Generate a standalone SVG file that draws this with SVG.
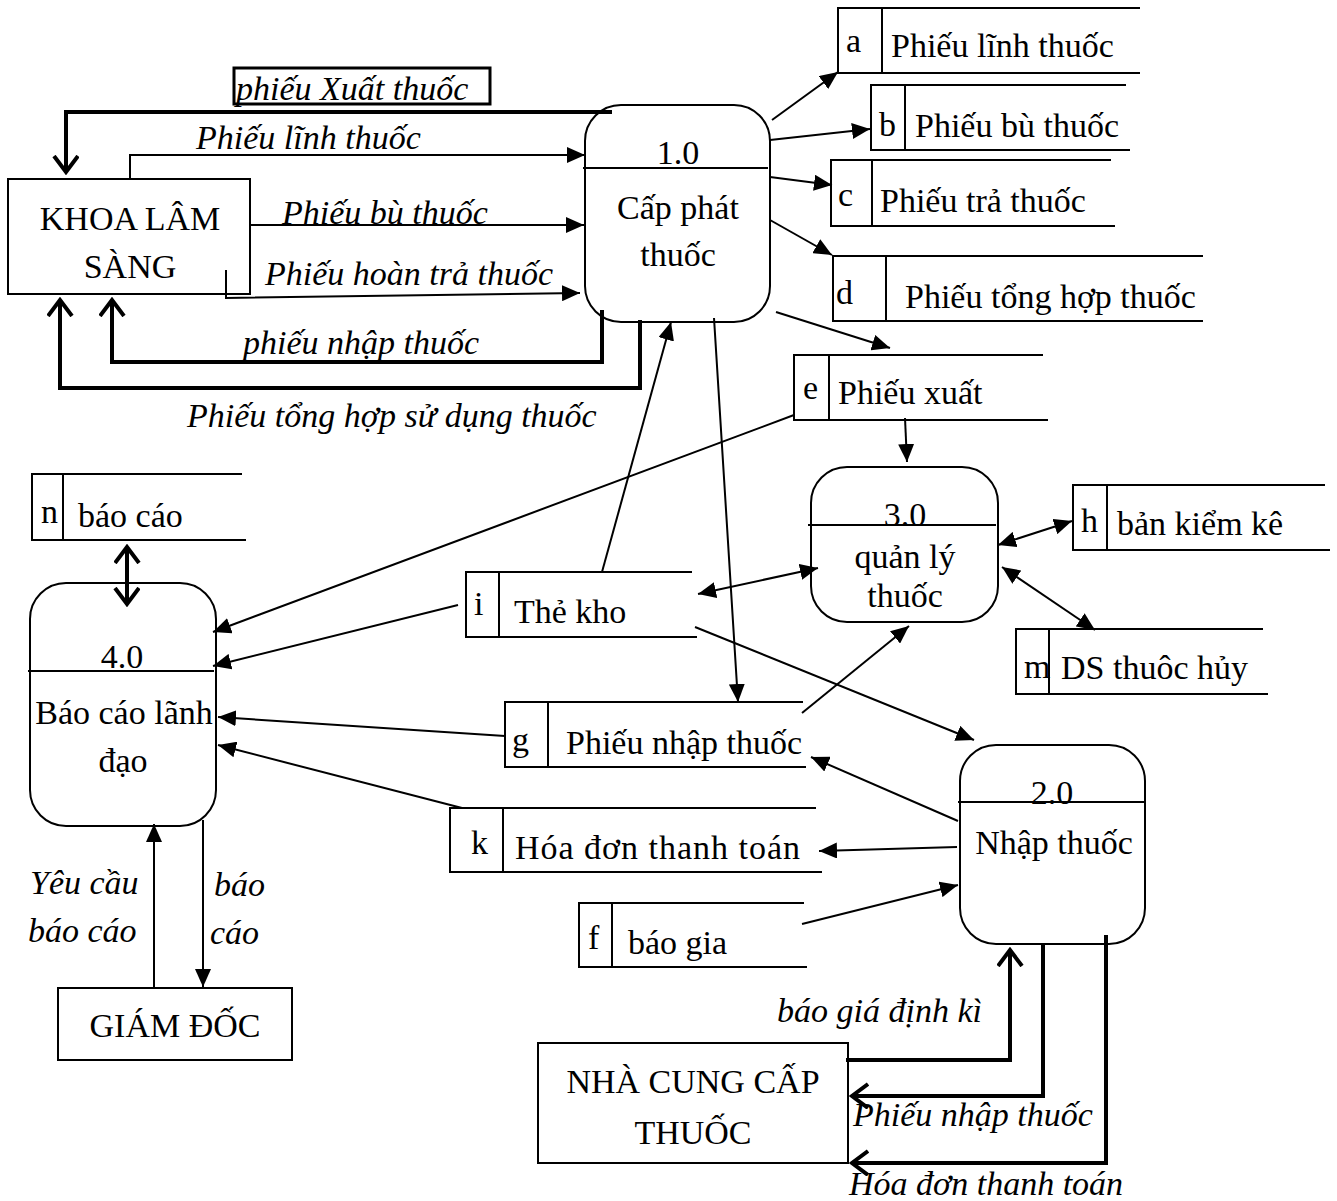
<svg xmlns="http://www.w3.org/2000/svg" width="1337" height="1201" viewBox="0 0 1337 1201" font-family="'Liberation Serif', 'Times New Roman', serif">
  <style>
    text { font-family: "Liberation Serif", "Times New Roman", serif; font-size: 34px; fill: #000; }
    .it { font-style: italic; }
    .mid { text-anchor: middle; }
    .box { fill: #fff; stroke: #000; stroke-width: 2; }
    .proc { fill: #fff; stroke: #000; stroke-width: 2; }
    .sl { fill: none; stroke: #000; stroke-width: 2; }
    .thin { fill: none; stroke: #000; stroke-width: 2; }
    .thick { fill: none; stroke: #000; stroke-width: 4; }
  </style>
  <defs>
    <marker id="ah" markerUnits="userSpaceOnUse" markerWidth="19" markerHeight="16" refX="18" refY="8" orient="auto-start-reverse">
      <path d="M0,0 L18,8 L0,16 z" fill="#000"/>
    </marker>
    <marker id="vh" markerUnits="userSpaceOnUse" markerWidth="20" markerHeight="28" refX="17" refY="13" orient="auto-start-reverse">
      <path d="M1,1 L17,13 L1,25" fill="none" stroke="#000" stroke-width="4"/>
    </marker>
  </defs>
  <rect width="1337" height="1201" fill="#fff"/>

  <!-- external entities -->
  <g id="khoa-lam-sang">
    <rect class="box" x="8" y="179" width="242" height="115"/>
    <text class="mid" x="130" y="230">KHOA LÂM</text>
    <text class="mid" x="130" y="278">SÀNG</text>
  </g>
  <g id="giam-doc">
    <rect class="box" x="58" y="988" width="234" height="72"/>
    <text class="mid" x="175" y="1037">GIÁM ĐỐC</text>
  </g>
  <g id="nha-cung-cap">
    <rect class="box" x="538" y="1043" width="310" height="120"/>
    <text class="mid" x="693" y="1093">NHÀ CUNG CẤP</text>
    <text class="mid" x="693" y="1144">THUỐC</text>
  </g>

  <!-- processes -->
  <g id="p1">
    <rect class="proc" x="585" y="105" width="185" height="217" rx="36"/>
    <line class="sl" x1="583" y1="168" x2="768" y2="168"/>
    <text class="mid" x="678" y="164">1.0</text>
    <text class="mid" x="678" y="219">Cấp phát</text>
    <text class="mid" x="678" y="266">thuốc</text>
  </g>
  <g id="p2">
    <rect class="proc" x="960" y="745" width="185" height="199" rx="36"/>
    <line class="sl" x1="958" y1="802" x2="1145" y2="802"/>
    <text class="mid" x="1052" y="804">2.0</text>
    <text class="mid" x="1054" y="854">Nhập thuốc</text>
  </g>
  <g id="p3">
    <rect class="proc" x="811" y="467" width="187" height="155" rx="36"/>
    <line class="sl" x1="808" y1="525" x2="996" y2="525"/>
    <text class="mid" x="905" y="526">3.0</text>
    <text class="mid" x="905" y="568">quản lý</text>
    <text class="mid" x="905" y="607">thuốc</text>
  </g>
  <g id="p4">
    <rect class="proc" x="30" y="583" width="186" height="243" rx="36"/>
    <line class="sl" x1="28" y1="671" x2="214" y2="671"/>
    <text class="mid" x="122" y="668">4.0</text>
    <text class="mid" x="124" y="724">Báo cáo lãnh</text>
    <text class="mid" x="123" y="772">đạo</text>
  </g>

  <!-- data stores -->
  <g id="store-a">
    <path class="sl" d="M1140,8 H838 V73 H1140 M882,8 V73"/>
    <text x="846" y="52">a</text>
    <text x="891" y="57">Phiếu lĩnh thuốc</text>
  </g>
  <g id="store-b">
    <path class="sl" d="M1126,85 H871 V150 H1130 M905,85 V150"/>
    <text x="879" y="136">b</text>
    <text x="915" y="137">Phiếu bù thuốc</text>
  </g>
  <g id="store-c">
    <path class="sl" d="M1111,160 H831 V226 H1115 M872,160 V226"/>
    <text x="838" y="206">c</text>
    <text x="880" y="212">Phiếu trả thuốc</text>
  </g>
  <g id="store-d">
    <path class="sl" d="M1203,256 H833 V321 H1203 M886,256 V321"/>
    <text x="836" y="304">d</text>
    <text x="905" y="308">Phiếu tổng hợp thuốc</text>
  </g>
  <g id="store-e">
    <path class="sl" d="M1043,355 H794 V420 H1048 M829,355 V420"/>
    <text x="803" y="399">e</text>
    <text x="838" y="404">Phiếu xuất</text>
  </g>
  <g id="store-n">
    <path class="sl" d="M242,474 H32 V540 H246 M63,474 V540"/>
    <text x="41" y="523">n</text>
    <text x="78" y="527">báo cáo</text>
  </g>
  <g id="store-i">
    <path class="sl" d="M692,572 H466 V637 H697 M499,572 V637"/>
    <text x="474" y="615">i</text>
    <text x="514" y="623">Thẻ kho</text>
  </g>
  <g id="store-h">
    <path class="sl" d="M1325,485 H1073 V550 H1330 M1107,485 V550"/>
    <text x="1081" y="532">h</text>
    <text x="1117" y="535">bản kiểm kê</text>
  </g>
  <g id="store-m">
    <path class="sl" d="M1263,629 H1016 V694 H1268 M1049,629 V694"/>
    <text x="1024" y="678">m</text>
    <text x="1061" y="679">DS thuôc hủy</text>
  </g>
  <g id="store-g">
    <path class="sl" d="M803,702 H505 V767 H806 M548,702 V767"/>
    <text x="512" y="751">g</text>
    <text x="566" y="754">Phiếu nhập thuốc</text>
  </g>
  <g id="store-k">
    <path class="sl" d="M816,808 H450 V872 H822 M503,808 V872"/>
    <text x="471" y="854">k</text>
    <text x="515" y="859" textLength="285">Hóa đơn thanh toán</text>
  </g>
  <g id="store-f">
    <path class="sl" d="M804,903 H579 V967 H807 M612,903 V967"/>
    <text x="588" y="949">f</text>
    <text x="628" y="954">báo gia</text>
  </g>

  <!-- flows -->
  <g id="connectors">
    <!-- 1.0 <-> KHOA LÂM SÀNG -->
    <rect x="234" y="68" width="256" height="36" fill="none" stroke="#000" stroke-width="3"/>
    <text class="it" x="236" y="100">phiếu Xuất thuốc</text>
    <polyline class="thick" points="612,112 66,112 66,172" marker-end="url(#vh)"/>
    <polyline class="thin" points="130,179 130,155 585,155" marker-end="url(#ah)"/>
    <text class="it" x="196" y="149">Phiếu lĩnh thuốc</text>
    <line class="thin" x1="250" y1="225" x2="584" y2="225" marker-end="url(#ah)"/>
    <text class="it" x="282" y="224">Phiếu bù thuốc</text>
    <polyline class="thin" points="226,270 226,298 580,293" marker-end="url(#ah)"/>
    <text class="it" x="265" y="285">Phiếu hoàn trả thuốc</text>
    <polyline class="thick" points="602,310 602,362 112,362 112,300" marker-end="url(#vh)"/>
    <text class="it" x="243" y="354">phiếu nhập thuốc</text>
    <polyline class="thick" points="640,320 640,388 60,388 60,300" marker-end="url(#vh)"/>
    <text class="it" x="187" y="427">Phiếu tổng hợp sử dụng thuốc</text>

    <!-- 1.0 to its stores -->
    <line class="thin" x1="772" y1="120" x2="838" y2="72" marker-end="url(#ah)"/>
    <line class="thin" x1="770" y1="140" x2="870" y2="129" marker-end="url(#ah)"/>
    <line class="thin" x1="770" y1="177" x2="832" y2="185" marker-end="url(#ah)"/>
    <line class="thin" x1="770" y1="220" x2="832" y2="255" marker-end="url(#ah)"/>
    <line class="thin" x1="776" y1="312" x2="890" y2="348" marker-end="url(#ah)"/>
    <line class="thin" x1="714" y1="318" x2="738" y2="702" marker-end="url(#ah)"/>
    <line class="thin" x1="602" y1="572" x2="671" y2="322" marker-end="url(#ah)"/>

    <!-- 3.0 -->
    <line class="thin" x1="905" y1="418" x2="907" y2="462" marker-end="url(#ah)"/>
    <line class="thin" x1="698" y1="594" x2="818" y2="568" marker-start="url(#ah)" marker-end="url(#ah)"/>
    <line class="thin" x1="802" y1="713" x2="909" y2="626" marker-end="url(#ah)"/>
    <line class="thin" x1="998" y1="545" x2="1072" y2="521" marker-start="url(#ah)" marker-end="url(#ah)"/>
    <line class="thin" x1="1002" y1="567" x2="1095" y2="630" marker-start="url(#ah)" marker-end="url(#ah)"/>

    <!-- 4.0 -->
    <line class="thin" x1="794" y1="415" x2="213" y2="632" marker-end="url(#ah)"/>
    <line class="thin" x1="458" y1="605" x2="213" y2="666" marker-end="url(#ah)"/>
    <line class="thin" x1="505" y1="736" x2="218" y2="717" marker-end="url(#ah)"/>
    <line class="thin" x1="462" y1="808" x2="218" y2="745" marker-end="url(#ah)"/>
    <line class="thick" x1="127" y1="547" x2="127" y2="604" marker-start="url(#vh)" marker-end="url(#vh)"/>
    <line class="thin" x1="154" y1="988" x2="154" y2="824" marker-end="url(#ah)"/>
    <text class="it" x="30" y="894">Yêu cầu</text>
    <text class="it" x="28" y="942">báo cáo</text>
    <line class="thin" x1="203" y1="820" x2="203" y2="987" marker-end="url(#ah)"/>
    <text class="it" x="214" y="896">báo</text>
    <text class="it" x="210" y="944">cáo</text>

    <!-- 2.0 -->
    <line class="thin" x1="695" y1="627" x2="974" y2="740" marker-end="url(#ah)"/>
    <line class="thin" x1="958" y1="821" x2="811" y2="757" marker-end="url(#ah)"/>
    <line class="thin" x1="957" y1="847" x2="819" y2="851" marker-end="url(#ah)"/>
    <line class="thin" x1="802" y1="924" x2="958" y2="885" marker-end="url(#ah)"/>
    <polyline class="thick" points="846,1060 1010,1060 1010,950" marker-end="url(#vh)"/>
    <text class="it" x="777" y="1022">báo giá định kì</text>
    <polyline class="thick" points="1043,945 1043,1096 852,1096" marker-end="url(#vh)"/>
    <text class="it" x="853" y="1126">Phiếu nhập thuốc</text>
    <polyline class="thick" points="1106,935 1106,1163 852,1163" marker-end="url(#vh)"/>
    <text class="it" x="849" y="1195">Hóa đơn thanh toán</text>
  </g>
</svg>
